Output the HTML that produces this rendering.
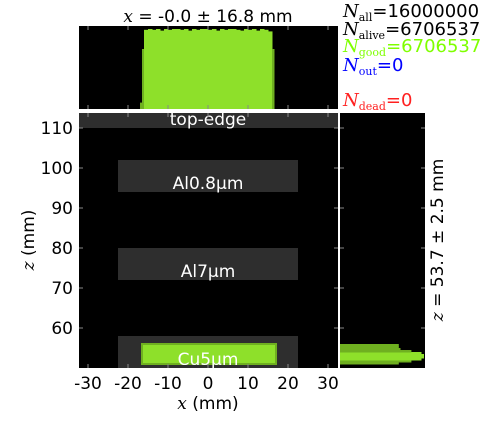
<!DOCTYPE html>
<html><head><meta charset="utf-8"><style>
body{margin:0;background:#fff;width:488px;height:416px;overflow:hidden}
svg text{font-family:"DejaVu Sans","Liberation Sans",sans-serif}
.it{font-family:"DejaVu Serif","Liberation Serif",serif;font-style:italic}
.sb{font-family:"DejaVu Serif","Liberation Serif",serif;font-size:11px}
</style></head><body>
<svg id="c" width="488" height="416" xmlns="http://www.w3.org/2000/svg">
<g id="main"></g>
</svg>
<script>
// data
const xTicks=[-30,-20,-10,0,10,20,30];
const zTicks=[60,70,80,90,100,110];
const screenNames=["top-edge","Al0.8μm","Al7μm","Cu5μm"];
const screenZ0=[110,94,72,50];
const screenZ1=[113.75,102,80,58];
const screenX0=[-32.25,-22.5,-22.5,-22.5];
const screenX1=[32.5,22.5,22.5,22.5];
const beamX=[-16.5,17];
const beamZ=[51,56];
const topBins=[-17,-16.5,-16,-15,-14,-13,-12,-11,-10,-9,-8,-7,-6,-5,-4,-3,-2,-1,0,1,2,3,4,5,6,7,8,9,10,11,12,13,14,15,16,16.5,17];
const topVals=[0.08,0.75,0.99,1,0.99,1,0.98,1,0.99,1,1,0.99,1,0.98,1,0.99,1,1,0.99,1,0.98,1,0.99,1,1,0.99,0.98,1,0.99,1,0.98,1,0.99,0.97,0.75,0];
const rightBins=[50.5,51,51.5,52,52.5,53,53.5,54,54.5,55,55.5,56,56.5];
const rightVals=[0,0.7,0.85,0.97,1,1,0.97,0.85,0.72,0.7,0.7,0,0];
// axes
const X0=79,X1=338,Y0=113,Y1=368;
const xs=v=>208+v*4, zs=v=>328-(v-60)*4;
const TY0=26,TY1=109, RX0=340,RX1=425;
const NS="http://www.w3.org/2000/svg";
const g=document.getElementById('main');
function mk(t,a,p){const e=document.createElementNS(NS,t);for(const k in a)e.setAttribute(k,a[k]);(p||g).appendChild(e);return e;}
let e=mk('rect',{x:X0,y:Y0,width:X1-X0,height:Y1-Y0,fill:'#000'});

screenNames.forEach((n,i)=>{
 const x0=Math.max(X0,xs(screenX0[i])),x1=Math.min(X1,xs(screenX1[i]));
 const y0=Math.max(Y0,zs(screenZ1[i])),y1=Math.min(Y1,zs(screenZ0[i]));
 let r=mk('rect',{x:x0,y:y0,width:x1-x0,height:y1-y0,fill:'#2e2e2e'});
 
});
e=mk('rect',{x:xs(beamX[0]),y:zs(beamZ[1]),width:xs(beamX[1])-xs(beamX[0]),height:zs(beamZ[0])-zs(beamZ[1]),fill:'#8ee02a',stroke:'#6fb020','stroke-width':2});

screenNames.forEach((n,i)=>{
 const yb=Math.min(Y1,zs(screenZ0[i]))-3;
 let t=mk('text',{x:208,y:yb,'text-anchor':'middle','font-size':17,fill:'#fff'});t.textContent=n;
 
});
xTicks.forEach(v=>{const x=xs(v);mk('line',{x1:x,x2:x,y1:Y1,y2:Y1-4,stroke:'#888'});mk('line',{x1:x,x2:x,y1:Y0,y2:Y0+4,stroke:'#888'});
 let t=mk('text',{x:x,y:389,'text-anchor':'middle','font-size':17,fill:'#000'});t.textContent=v;
 });
zTicks.forEach(v=>{const y=zs(v);mk('line',{x1:X0,x2:X0+4,y1:y,y2:y,stroke:'#888'});mk('line',{x1:X1,x2:X1-4,y1:y,y2:y,stroke:'#888'});
 let t=mk('text',{x:73,y:y+6,'text-anchor':'end','font-size':17,fill:'#000'});t.textContent=v;
 });
e=mk('rect',{x:X0,y:TY0,width:X1-X0,height:TY1-TY0,fill:'#000'});

const th=TY1-TY0-3;
for(let i=0;i<topVals.length;i++){const x0=xs(topBins[i]),x1=xs(topBins[i+1]);const h=topVals[i]*th;
 let r=mk('rect',{x:x0,y:TY1-h,width:x1-x0+0.5,height:h,fill:topVals[i]<0.9?'#6fb020':'#8ee02a'});
 }
xTicks.forEach(v=>{const x=xs(v);mk('line',{x1:x,x2:x,y1:TY0,y2:TY0+4,stroke:'#888'});mk('line',{x1:x,x2:x,y1:TY1,y2:TY1-4,stroke:'#888'});});
e=mk('rect',{x:RX0,y:Y0,width:RX1-RX0,height:Y1-Y0,fill:'#000'});

const rw=RX1-RX0-1;
for(let i=0;i<rightVals.length;i++){const y0=zs(rightBins[i+1]),y1=zs(rightBins[i]);const w=rightVals[i]*rw;
 let r=mk('rect',{x:RX0,y:y0,width:w,height:y1-y0+0.5,fill:rightVals[i]<0.9?'#6fb020':'#8ee02a'});
 }
zTicks.forEach(v=>{const y=zs(v);mk('line',{x1:RX0,x2:RX0+4,y1:y,y2:y,stroke:'#888'});mk('line',{x1:RX1,x2:RX1-4,y1:y,y2:y,stroke:'#888'});});
</script>
<svg width="488" height="416" style="position:absolute;left:0;top:0" xmlns="http://www.w3.org/2000/svg">
<text x="208" y="22" text-anchor="middle" font-size="17"><tspan class="it">x</tspan> = -0.0 ± 16.8 mm</text>
<text x="208" y="409" text-anchor="middle" font-size="17"><tspan class="it">x</tspan> (mm)</text>
<text transform="translate(34,240) rotate(-90)" text-anchor="middle" font-size="17"><tspan class="it">z</tspan> (mm)</text>
<text transform="translate(443,240) rotate(-90)" text-anchor="middle" font-size="17"><tspan class="it">z</tspan> = 53.7 ± 2.5 mm</text>
<g font-size="18">
<text x="343" y="17"><tspan class="it">N</tspan><tspan class="sb" dy="4">all</tspan><tspan dy="-4">=16000000</tspan></text>
<text x="343" y="35"><tspan class="it">N</tspan><tspan class="sb" dy="4">alive</tspan><tspan dy="-4">=6706537</tspan></text>
<text x="343" y="52" fill="#7fff00"><tspan class="it">N</tspan><tspan class="sb" dy="4">good</tspan><tspan dy="-4">=6706537</tspan></text>
<text x="343" y="71" fill="#0000ff"><tspan class="it">N</tspan><tspan class="sb" dy="4">out</tspan><tspan dy="-4">=0</tspan></text>
<text x="343" y="106" fill="#ff2020"><tspan class="it">N</tspan><tspan class="sb" dy="4">dead</tspan><tspan dy="-4">=0</tspan></text>
</g>
</svg>
</body></html>
